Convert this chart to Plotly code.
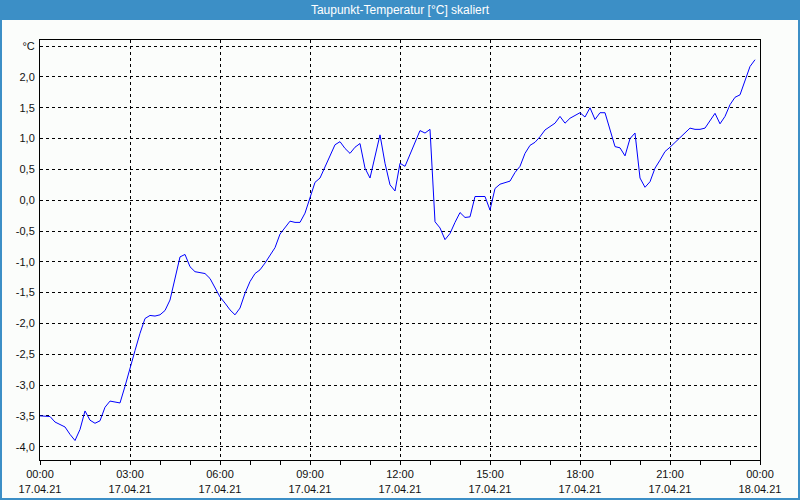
import pandas as pd
import plotly.graph_objects as go

# 10-minute readings, 17.04.21 00:00 .. 23:50
start = "2021-04-17 00:00"
dew_point = [
    -3.50, -3.50, -3.51, -3.60, -3.64, -3.68, -3.80, -3.90, -3.72, -3.42,
    -3.57, -3.62, -3.58, -3.36, -3.26, -3.28, -3.29, -3.02, -2.71, -2.44,
    -2.16, -1.92, -1.87, -1.88, -1.86, -1.79, -1.62, -1.25, -0.92, -0.88,
    -1.08, -1.16, -1.18, -1.19, -1.27, -1.41, -1.57, -1.67, -1.78, -1.86,
    -1.75, -1.51, -1.32, -1.19, -1.13, -1.02, -0.90, -0.77, -0.55, -0.44,
    -0.34, -0.36, -0.36, -0.21, 0.05, 0.29, 0.36, 0.55, 0.74, 0.90,
    0.95, 0.84, 0.76, 0.86, 0.92, 0.52, 0.36, 0.71, 1.06, 0.60,
    0.25, 0.15, 0.60, 0.55, 0.74, 0.91, 1.13, 1.09, 1.15, -0.35,
    -0.45, -0.64, -0.54, -0.36, -0.20, -0.28, -0.27, 0.06, 0.06, 0.06,
    -0.16, 0.19, 0.26, 0.28, 0.31, 0.45, 0.55, 0.76, 0.89, 0.94,
    1.03, 1.14, 1.20, 1.25, 1.36, 1.25, 1.33, 1.38, 1.42, 1.35,
    1.50, 1.31, 1.42, 1.42, 1.14, 0.87, 0.85, 0.72, 1.00, 1.09,
    0.36, 0.21, 0.30, 0.52, 0.65, 0.79, 0.86, 0.94, 1.02, 1.10,
    1.17, 1.15, 1.15, 1.17, 1.28, 1.41, 1.24, 1.36, 1.55, 1.67,
    1.71, 1.94, 2.17, 2.28,
]
times = pd.date_range(start, periods=len(dew_point), freq="10min")

x_tick_vals = pd.date_range(start, "2021-04-18 00:00", freq="3h")
x_tick_text = [f"{t:%H:%M}<br>{t:%d.%m.%y}" for t in x_tick_vals]

y_tick_vals = [-4.0, -3.5, -3.0, -2.5, -2.0, -1.5, -1.0, -0.5, 0.0, 0.5, 1.0, 1.5, 2.0, 2.5]
y_tick_text = [f"{v:.1f}".replace(".", ",") for v in y_tick_vals[:-1]] + ["°C"]

title = "Taupunkt-Temperatur [°C] skaliert"

W, H = 800, 500
ML, MR, MT, MB = 40, 40, 40, 40
PW, PH = W - ML - MR, H - MT - MB


def px(xp):
    return (xp - ML) / PW


def py(yp):
    return (H - MB - yp) / PH


fig = go.Figure()
fig.add_trace(go.Scatter(
    x=times, y=dew_point, mode="lines",
    line=dict(color="#0000ff", width=1), hoverinfo="skip",
))

tick_font = dict(family="Liberation Sans Narrow, Liberation Sans, Arial", size=11, color="#111111")
grid = dict(showgrid=True, gridcolor="#000000", gridwidth=1, griddash="3px,3px")

fig.update_layout(
    width=W, height=H,
    margin=dict(l=ML, r=MR, t=MT, b=MB, autoexpand=False),
    paper_bgcolor="#fbfdfb", plot_bgcolor="#fbfdfb",
    showlegend=False,
    title=dict(text=title, x=0.5, xref="container", xanchor="center",
               y=1 - 10 / H, yref="container", yanchor="middle",
               font=dict(family="Liberation Sans, Arial", size=12, color="#ffffff")),
    xaxis=dict(
        type="date", range=[x_tick_vals[0], x_tick_vals[-1]], automargin=False,
        tickvals=x_tick_vals, ticktext=x_tick_text, tickfont=tick_font,
        ticks="outside", ticklen=4, tickcolor="#000000", tickwidth=1,
        minor=dict(dtick=3600000, ticks="outside", ticklen=4, tickcolor="#000000", showgrid=False),
        showline=True, linecolor="#000000", linewidth=1, mirror=True, zeroline=False,
        **grid,
    ),
    yaxis=dict(
        range=[-4.216, 2.6], tickvals=y_tick_vals, ticktext=y_tick_text, automargin=False,
        tickfont=tick_font, ticks="", ticklabelstandoff=2,
        showline=True, linecolor="#000000", linewidth=1, mirror=True, zeroline=False,
        **grid,
    ),
    shapes=[
        dict(type="rect", xref="paper", yref="paper", layer="below",
             x0=px(0), x1=px(W), y0=py(20), y1=py(0),
             fillcolor="#3c8fc6", line=dict(width=0)),
        dict(type="rect", xref="paper", yref="paper", layer="below",
             x0=px(1), x1=px(W - 1), y0=py(H - 1), y1=py(1),
             fillcolor="rgba(0,0,0,0)", line=dict(color="#3c8fc6", width=2)),
    ],
)

fig.write_html("out.html")
